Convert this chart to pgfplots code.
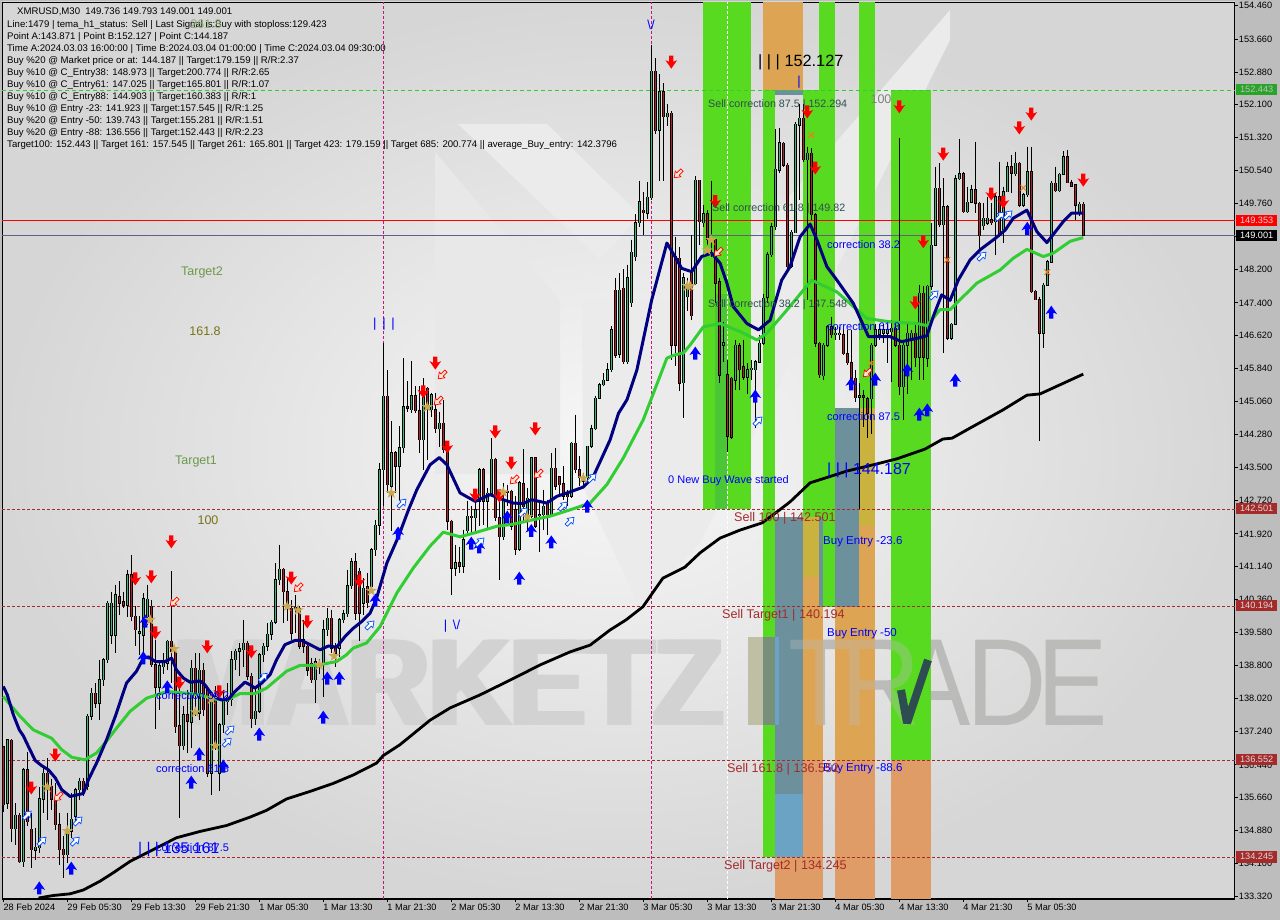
\documentclass[border=0pt]{standalone}
\usepackage{fontspec}
\usepackage{graphicx}
\usepackage{pgfplots}
\usepackage{pgfplotstable}
\pgfplotsset{compat=1.18}
\setmainfont{Liberation Sans}

\definecolor{upc}{HTML}{3CB878}
\definecolor{dnc}{HTML}{B5202A}
\definecolor{gr}{HTML}{58DA20}
\definecolor{grd}{HTML}{4AC636}
\definecolor{orc}{HTML}{E09C66}
\definecolor{orh}{HTML}{DDA553}
\definecolor{yl}{HTML}{C9B23E}
\definecolor{bg}{HTML}{6C909C}
\definecolor{bl}{HTML}{6BA3C4}
\definecolor{lvl}{HTML}{A52A2A}
\definecolor{vline}{HTML}{C71585}
\definecolor{starc}{HTML}{C8A850}
\definecolor{slate}{HTML}{2F4F4F}
\definecolor{lbl}{HTML}{6A9A4A}
\definecolor{ma}{HTML}{32CD32}
\definecolor{logo}{HTML}{2E4D50}
\definecolor{wmheavy}{HTML}{D2D2D2}
\definecolor{wmthin}{HTML}{BBBBB9}
\definecolor{wmi}{HTML}{BFBFA5}
\definecolor{wmig}{HTML}{78907A}

% arrows and stars, sizes in pixels
\pgfdeclareplotmark{dna}{%
  \pgfpathmoveto{\pgfqpoint{-2.2pt}{6.5pt}}\pgfpathlineto{\pgfqpoint{2.2pt}{6.5pt}}%
  \pgfpathlineto{\pgfqpoint{2.2pt}{0.5pt}}\pgfpathlineto{\pgfqpoint{5.8pt}{2pt}}%
  \pgfpathlineto{\pgfqpoint{0pt}{-6.5pt}}\pgfpathlineto{\pgfqpoint{-5.8pt}{2pt}}%
  \pgfpathlineto{\pgfqpoint{-2.2pt}{0.5pt}}\pgfpathclose\pgfusepathqfill}
\pgfdeclareplotmark{upa}{%
  \pgfpathmoveto{\pgfqpoint{-2.2pt}{-6.5pt}}\pgfpathlineto{\pgfqpoint{2.2pt}{-6.5pt}}%
  \pgfpathlineto{\pgfqpoint{2.2pt}{-0.5pt}}\pgfpathlineto{\pgfqpoint{5.8pt}{-2pt}}%
  \pgfpathlineto{\pgfqpoint{0pt}{6.5pt}}\pgfpathlineto{\pgfqpoint{-5.8pt}{-2pt}}%
  \pgfpathlineto{\pgfqpoint{-2.2pt}{-0.5pt}}\pgfpathclose\pgfusepathqfill}
\pgfdeclareplotmark{hol}{%
  \pgfpathmoveto{\pgfqpoint{-1.6pt}{-5.5pt}}\pgfpathlineto{\pgfqpoint{1.6pt}{-5.5pt}}%
  \pgfpathlineto{\pgfqpoint{1.6pt}{0pt}}\pgfpathlineto{\pgfqpoint{4pt}{0pt}}%
  \pgfpathlineto{\pgfqpoint{0pt}{5.5pt}}\pgfpathlineto{\pgfqpoint{-4pt}{0pt}}%
  \pgfpathlineto{\pgfqpoint{-1.6pt}{0pt}}\pgfpathclose\pgfusepathqfillstroke}
\pgfdeclareplotmark{sta}{%
  \pgfpathmoveto{\pgfqpoint{0pt}{6pt}}\pgfpathlineto{\pgfqpoint{1.35pt}{1.86pt}}%
  \pgfpathlineto{\pgfqpoint{5.7pt}{1.85pt}}\pgfpathlineto{\pgfqpoint{2.19pt}{-0.71pt}}%
  \pgfpathlineto{\pgfqpoint{3.53pt}{-4.85pt}}\pgfpathlineto{\pgfqpoint{0pt}{-2.3pt}}%
  \pgfpathlineto{\pgfqpoint{-3.53pt}{-4.85pt}}\pgfpathlineto{\pgfqpoint{0pt}{-2.3pt}}%
  \pgfpathlineto{\pgfqpoint{-3.53pt}{-4.85pt}}\pgfpathlineto{\pgfqpoint{-2.19pt}{-0.71pt}}%
  \pgfpathlineto{\pgfqpoint{-5.7pt}{1.85pt}}\pgfpathlineto{\pgfqpoint{-1.35pt}{1.86pt}}%
  \pgfpathclose\pgfusepathqfill}

% i = bar number, 4 px apart
\pgfplotstableread{
i o h l c
0 136.87 136.87 135.33 135.49
1 135.53 137.03 135.40 137.03
2 137.03 137.05 134.62 134.93
3 134.93 135.53 134.54 135.25
4 135.25 135.30 134.10 134.14
5 134.14 136.36 134.02 136.32
6 136.32 136.75 135.00 135.09
7 134.91 135.29 133.99 134.42
8 134.42 134.94 134.19 134.49
9 134.47 135.92 134.34 135.63
10 135.63 136.44 135.30 136.24
11 136.24 136.60 135.13 135.89
12 135.92 136.10 135.37 135.63
13 135.65 136.00 134.90 135.02
14 135.02 135.30 134.07 134.42
15 134.44 134.74 133.76 134.31
16 134.31 135.30 134.10 134.90
17 134.86 135.77 134.70 135.15
18 135.22 135.90 135.10 135.85
19 135.85 136.13 135.60 136.05
20 136.05 136.13 135.70 135.81
21 135.92 137.65 135.85 137.59
22 137.59 138.26 137.50 138.14
23 138.14 138.38 137.80 137.90
24 137.90 138.93 137.50 138.46
25 138.46 138.97 138.30 138.93
26 138.93 140.32 138.85 140.27
27 139.52 140.55 139.30 140.27
28 139.52 140.71 139.09 140.47
29 140.43 140.79 140.00 140.27
30 140.31 140.55 140.15 140.23
31 140.23 141.07 139.95 140.95
32 140.95 141.42 139.85 139.96
33 139.96 140.20 139.25 139.64
34 139.56 139.96 139.05 139.60
35 139.52 140.51 139.10 140.38
36 139.96 140.71 139.76 140.37
37 140.20 140.35 138.75 138.81
38 138.81 139.41 137.30 138.28
39 138.28 138.93 137.75 138.79
40 138.77 139.09 138.60 138.85
41 138.85 139.40 138.70 139.37
42 139.37 141.03 138.38 139.13
43 139.13 139.20 137.19 137.35
44 137.37 138.46 135.18 136.89
45 136.89 137.83 136.80 137.63
46 137.63 138.22 136.71 137.47
47 137.45 138.93 136.84 138.73
48 138.73 139.09 137.59 138.14
49 137.67 139.09 137.50 138.69
50 138.69 138.85 137.59 137.75
51 138.22 138.30 136.15 136.24
52 136.24 138.06 135.73 137.98
53 137.98 138.30 136.80 136.87
54 136.24 137.43 135.81 137.39
55 137.39 138.22 137.19 137.98
56 137.94 138.38 137.63 138.04
57 137.98 139.13 137.83 138.93
58 138.93 139.20 138.69 139.14
59 139.14 139.33 138.54 139.20
60 139.17 139.88 138.77 139.33
61 139.33 139.37 138.46 138.54
62 138.54 138.62 137.31 137.53
63 137.53 138.30 137.39 137.71
64 137.71 139.09 137.67 139.05
65 139.05 139.33 138.89 139.25
66 139.25 139.80 139.15 139.54
67 139.54 139.88 139.40 139.82
68 139.82 141.22 139.78 140.83
69 140.83 141.66 140.70 141.08
70 141.08 141.10 139.80 140.55
71 140.55 140.90 139.85 140.16
72 140.16 140.35 139.40 139.56
73 140.16 140.47 139.56 140.18
74 140.16 140.20 139.20 139.25
75 139.41 139.88 139.09 139.25
76 139.25 139.33 138.54 138.69
77 138.85 138.97 138.38 138.46
78 138.46 138.97 137.90 138.89
79 138.81 138.95 138.60 138.85
80 138.85 139.88 138.06 139.64
81 139.64 140.16 139.50 139.92
82 139.92 140.12 139.09 139.21
83 139.25 139.33 138.77 139.09
84 139.21 139.92 139.00 139.88
85 139.88 140.12 139.80 140.02
86 140.02 141.07 139.95 140.69
87 140.69 141.34 140.60 141.26
88 141.26 141.46 139.88 140.04
89 141.03 141.10 139.37 140.04
90 140.27 140.87 140.00 140.63
91 140.67 141.00 140.15 140.29
92 140.67 141.58 140.60 141.54
93 141.54 142.25 141.40 142.13
94 142.13 143.60 141.90 143.44
95 143.44 146.44 142.57 145.18
96 145.18 145.81 142.89 143.09
97 143.05 144.59 141.98 143.85
98 143.85 143.88 142.89 143.52
99 143.52 144.47 142.73 143.96
100 143.96 146.09 143.84 144.94
101 144.94 145.54 144.82 144.90
102 144.86 146.01 144.78 145.20
103 145.20 145.42 144.78 144.84
104 144.84 145.42 143.84 144.15
105 144.15 145.61 143.44 145.38
106 145.38 145.40 143.68 144.94
107 144.86 145.26 144.70 145.22
108 144.86 145.26 144.31 144.41
109 144.41 144.82 143.99 144.55
110 144.55 145.10 143.84 143.92
111 143.92 144.00 142.02 142.22
112 142.22 142.26 140.48 141.11
113 141.11 141.66 140.93 141.23
114 141.23 141.62 141.00 141.15
115 141.15 142.02 141.00 141.78
116 142.00 142.69 141.86 142.34
117 142.34 142.57 141.90 142.30
118 142.30 142.85 141.94 142.49
119 142.69 143.48 142.10 143.44
120 143.44 143.48 142.14 142.69
121 142.69 143.01 142.02 142.89
122 142.89 144.19 142.81 143.69
123 143.69 143.72 142.22 142.30
124 142.30 142.97 140.83 141.85
125 141.85 143.13 141.78 142.73
126 142.93 143.09 142.57 142.89
127 142.93 142.97 142.02 142.10
128 142.49 142.81 141.43 141.55
129 141.55 143.17 141.51 143.13
130 143.11 143.93 142.18 142.57
131 142.34 143.01 142.02 142.77
132 142.34 143.74 142.30 143.72
133 143.72 143.74 142.06 142.10
134 142.35 142.73 141.48 142.37
135 142.37 142.97 142.02 142.57
136 142.65 142.73 141.90 142.37
137 142.37 143.84 142.34 143.48
138 143.48 143.96 142.97 143.05
139 143.28 143.30 142.81 143.09
140 143.11 143.52 142.73 142.81
141 142.85 142.97 142.57 142.81
142 142.81 144.09 142.77 144.07
143 144.07 144.75 143.36 143.44
144 143.44 143.76 143.05 143.25
145 143.25 143.36 143.05 143.17
146 143.25 144.01 143.20 144.00
147 144.00 144.51 143.96 144.41
148 144.41 145.18 144.39 145.14
149 145.14 145.50 145.12 145.46
150 145.46 145.73 145.42 145.57
151 145.57 145.97 145.54 145.81
152 145.81 146.84 145.77 146.76
153 147.70 148.00 146.10 146.16
154 146.18 148.10 146.10 147.70
155 147.75 148.20 145.95 146.00
156 146.00 148.30 145.95 148.00
157 147.40 148.90 147.30 148.60
158 148.50 149.50 148.40 149.30
159 149.30 150.30 149.20 149.80
160 149.60 150.03 149.00 149.54
161 149.53 150.27 149.40 149.91
162 149.89 153.52 149.84 152.90
163 152.90 153.20 151.40 151.48
164 151.50 152.83 150.28 152.41
165 152.41 152.61 150.28 151.82
166 151.82 152.13 151.60 151.90
167 151.90 151.95 146.05 146.40
168 148.50 148.97 145.90 146.40
169 148.46 148.73 145.30 145.50
170 145.50 148.10 144.67 148.00
171 147.55 148.00 147.20 147.78
172 148.18 149.01 147.00 147.10
173 147.86 150.40 147.83 150.31
174 150.31 150.31 148.77 149.33
175 149.30 149.72 149.20 149.52
176 149.52 149.60 148.58 148.90
177 148.85 150.30 148.50 148.90
178 148.90 148.95 147.40 147.86
179 147.90 148.00 145.50 145.69
180 146.40 146.95 146.00 146.45
181 145.70 146.05 143.87 144.23
182 145.61 145.65 144.16 144.21
183 145.57 146.52 145.33 146.40
184 146.38 146.44 145.33 145.81
185 145.89 146.52 145.57 145.63
186 145.63 145.97 145.25 145.81
187 145.82 146.04 145.57 145.85
188 145.82 146.04 144.42 146.00
189 145.99 146.64 145.97 146.44
190 146.44 147.62 146.40 147.51
191 147.53 148.60 147.40 148.54
192 148.54 149.29 148.50 149.21
193 149.21 151.52 149.13 150.57
194 150.55 151.54 150.47 151.20
195 151.19 151.22 150.63 150.67
196 150.67 150.71 148.18 148.26
197 148.26 149.13 148.22 149.07
198 149.07 151.70 149.05 151.64
199 151.62 152.13 149.84 151.78
200 151.78 152.13 150.75 150.80
201 150.80 151.11 147.47 150.95
202 150.95 151.07 149.37 149.49
203 149.49 149.53 146.36 146.44
204 146.44 146.48 145.61 145.69
205 145.67 146.44 145.57 146.40
206 146.40 146.87 146.36 146.84
207 146.84 147.07 146.56 146.64
208 146.66 146.83 146.52 146.68
209 146.66 146.83 146.52 146.68
210 146.64 146.79 146.16 146.20
211 146.20 146.76 145.93 145.98
212 145.98 146.76 145.53 145.61
213 145.61 145.81 145.06 145.15
214 145.16 145.49 142.50 145.20
215 145.20 145.33 144.46 145.16
216 145.13 145.17 144.19 144.78
217 145.13 146.44 144.30 146.40
218 146.40 146.91 146.36 146.76
219 146.66 146.91 146.52 146.76
220 146.68 146.91 146.44 146.76
221 146.68 146.91 145.97 146.76
222 146.72 147.00 145.53 146.80
223 146.80 146.95 146.36 146.40
224 146.40 151.31 145.21 145.41
225 145.41 146.44 144.62 146.40
226 146.40 146.91 145.25 146.68
227 146.50 146.76 145.57 146.68
228 146.68 146.91 145.89 146.10
229 146.11 147.83 145.58 147.63
230 147.63 147.79 145.58 146.11
231 146.09 147.83 145.89 147.79
232 147.79 149.29 147.71 148.77
233 148.77 150.63 148.74 150.12
234 150.12 150.71 149.21 149.26
235 149.26 150.36 146.21 149.68
236 149.68 149.72 146.52 146.56
237 146.56 146.92 146.52 146.89
238 146.89 150.44 146.88 150.35
239 150.35 151.30 150.32 150.47
240 150.47 150.51 149.53 149.56
241 149.56 150.16 149.53 149.79
242 149.79 150.20 149.76 150.09
243 150.09 151.22 149.53 149.76
244 149.76 149.80 148.66 148.99
245 149.23 149.76 149.13 149.41
246 149.29 149.92 149.25 149.41
247 149.37 149.76 149.25 149.30
248 149.33 150.00 148.54 149.92
249 149.92 150.75 148.97 149.05
250 149.13 150.16 148.81 150.04
251 150.04 150.75 150.04 150.63
252 150.63 150.91 150.00 150.47
253 150.47 150.99 150.40 150.71
254 150.71 150.75 149.68 149.72
255 149.72 150.00 149.68 149.96
256 149.96 151.11 149.92 150.51
257 150.51 151.11 147.63 147.67
258 147.68 147.71 147.47 147.48
259 147.48 147.55 144.12 146.68
260 146.68 147.87 146.33 147.82
261 147.82 148.42 147.79 148.38
262 148.36 150.28 148.34 150.24
263 150.24 150.63 150.04 150.06
264 150.06 150.47 150.04 150.45
265 150.45 151.00 150.43 150.87
266 150.87 151.03 150.24 150.25
267 150.25 150.32 150.16 150.17
268 150.20 150.20 149.37 149.72
269 149.56 149.80 149.45 149.74
270 149.736 149.793 149.001 149.001
}\bars

% px/py helpers for text placed on the picture
\newcommand{\lab}[5][west]{\node[anchor=#1,inner sep=0pt,yshift=-1.5pt,text=#3,font=\fontsize{#2}{#2}\selectfont] at #4 {#5};}
\newcommand{\col}[5]{\addplot[draw=none,fill=#5,forget plot] coordinates {(#1,#3)(#2,#3)(#2,#4)(#1,#4)} --cycle;}
\newcommand{\pricebox}[4]{\node[fill=#2,text=#3,minimum width=41pt,minimum height=11.5pt,inner sep=0pt,anchor=west,font=\fontsize{9.2}{10}\selectfont] at (1236,920-#1) {#4};}
% watermark letters
\newcommand{\wmheavytext}[1]{\node[anchor=base west,inner sep=0pt,text=wmheavy,font=\fontsize{124}{124}\selectfont\bfseries] at (#1,194) {\scalebox{.905}[1]{MARKETZ}};}
\newcommand{\wmletter}[4][]{\node[anchor=base west,inner sep=0pt,text=wmthin,#1,font=\fontsize{124}{124}\selectfont] at (#2,194) {\scalebox{#3}[1]{#4}};}

\pgfplotsset{bar part/.style={only marks,mark size=0pt,mark options={draw=none,fill=none},forget plot,
    error bars/.cd,y dir=both,y explicit,error mark=none}}

\begin{document}
\begin{tikzpicture}[x=1pt,y=1pt]
\useasboundingbox (0,0) rectangle (1280,920);
\fill[black!26] (0,0) rectangle (1280,920);
\shade[inner color=black!3,outer color=black!16] (2,21) rectangle (1235,918);

% watermark behind the chart
\fill[black!9] (435,768) -- (560,620) -- (560,446) -- (435,446) -- cycle;
\fill[black!8] (458,796) -- (547,796) -- (640,705) -- (600,660) -- cycle;
\fill[black!8] (582,620) -- (700,620) -- (700,377) -- (640,313) -- (583,433) -- cycle;
\fill[black!8] (700,377) -- (950,880) -- (950,910) -- (700,620) -- cycle;
\wmheavytext{170}\wmheavytext{174}\wmheavytext{178}
\fill[wmi] (748,195) rectangle (775,283);
\wmletter{788}{.85}{T}\wmletter{840}{.9}{R}\wmletter{900}{.85}{A}\wmletter{966}{.9}{D}\wmletter{1037}{.85}{E}

\begin{axis}[
    at={(2.3pt,21pt)},anchor=south west,
    scale only axis,width=1232.4pt,height=896.5pt,
    clip=false,
    xmin=-0.25,xmax=307.85,
    ymin=133.257,ymax=154.527,
    axis line style={line width=1.3pt,black},
    tick style={black,line width=.8pt},
    tick align=outside,major tick length=3pt,
    xtick pos=bottom,ytick pos=right,yticklabel pos=right,
    xtick={0,16,32,48,64,80,96,112,128,144,160,176,192,208,224,240,256},
    xticklabels={28 Feb 2024,29 Feb 05:30,29 Feb 13:30,29 Feb 21:30,1 Mar 05:30,1 Mar 13:30,1 Mar 21:30,2 Mar 05:30,2 Mar 13:30,2 Mar 21:30,3 Mar 05:30,3 Mar 13:30,3 Mar 21:30,4 Mar 05:30,4 Mar 13:30,4 Mar 21:30,5 Mar 05:30},
    ytick={154.46,153.66,152.88,152.10,151.32,150.54,149.76,148.98,148.20,147.40,146.62,145.84,145.06,144.28,143.50,142.72,141.92,141.14,140.36,139.58,138.80,138.02,137.24,136.44,135.66,134.88,134.10,133.32},
    x tick label style={anchor=north west,xshift=-1pt,yshift=-1pt,inner sep=1pt,font=\fontsize{9.2}{10}\selectfont},
    y tick label style={anchor=west,xshift=0pt,inner sep=1pt,font=\fontsize{9.2}{10}\selectfont},
    /pgf/number format/.cd,fixed,fixed zerofill,precision=3,assume math mode=true,
]

% coloured zones
\col{175}{187}{142.50}{154.527}{gr}
\col{178}{181}{142.50}{147.60}{grd}
\col{190}{200}{152.45}{154.527}{orh}
\col{190}{193}{134.245}{152.45}{gr}
\col{190}{193}{137.38}{139.47}{wmig}
\col{193}{200}{152.33}{152.45}{bg}
\col{193}{200}{134.245}{142.31}{bg}
\col{193}{200}{134.245}{135.75}{bl}
\col{193}{194}{137.38}{139.47}{bl}
\col{200}{204}{142.31}{152.45}{gr}
\col{204}{208}{140.19}{154.527}{gr}
\col{204}{205}{140.19}{142.31}{bg}
\col{200}{204}{133.257}{142.31}{orh}
\col{200}{204}{140.90}{142.31}{yl}
\col{204}{205}{133.257}{140.19}{orh}
\col{193}{200}{133.257}{134.245}{orc}
\col{200}{205}{133.257}{136.55}{orc}
\col{208}{214}{140.19}{144.91}{bg}
\col{208}{218}{136.55}{140.19}{orh}
\col{208}{218}{133.257}{136.55}{orc}
\col{214}{218}{140.19}{144.91}{orh}
\col{214}{218}{142.10}{144.91}{yl}
\col{214}{218}{144.91}{154.527}{gr}
\col{222}{232}{136.55}{152.45}{gr}
\col{222}{232}{133.257}{136.55}{orc}

% levels
\addplot[ma,line width=.9pt,dash pattern=on 4pt off 3pt,forget plot] coordinates {(-0.25,152.443)(307.85,152.443)};
\addplot[red,line width=1pt,forget plot] coordinates {(-0.25,149.353)(307.85,149.353)};
\addplot[black!40!blue!25!gray,line width=1pt,forget plot] coordinates {(-0.25,149.001)(307.85,149.001)};
\addplot[lvl,line width=.9pt,dash pattern=on 3pt off 2pt,forget plot] coordinates {(-0.25,142.501)(307.85,142.501)};
\addplot[lvl,line width=.9pt,dash pattern=on 3pt off 2pt,forget plot] coordinates {(-0.25,140.194)(307.85,140.194)};
\addplot[lvl,line width=.9pt,dash pattern=on 3pt off 2pt,forget plot] coordinates {(-0.25,136.552)(307.85,136.552)};
\addplot[lvl,line width=.9pt,dash pattern=on 3pt off 2pt,forget plot] coordinates {(-0.25,134.245)(307.85,134.245)};
\addplot[vline,line width=.9pt,dash pattern=on 3pt off 2pt,forget plot] coordinates {(95,133.257)(95,154.527)};
\addplot[vline,line width=.9pt,dash pattern=on 3pt off 2pt,forget plot] coordinates {(162,133.257)(162,154.527)};
\addplot[white,line width=.9pt,dash pattern=on 3pt off 2pt,forget plot] coordinates {(181,133.257)(181,154.527)};

% candles: wick, black outline, coloured body
\addplot[bar part,error bar style={black,line width=1pt}]
  table[x=i,y=h,y error plus expr=0,y error minus expr=\thisrow{h}-\thisrow{l}] {\bars};
\addplot[bar part,error bar style={black,line width=3.2pt}]
  table[x=i,y expr=(\thisrow{o}+\thisrow{c})/2,y error expr=abs(\thisrow{o}-\thisrow{c})/2+0.012] {\bars};
\addplot[bar part,error bar style={upc,line width=1.5pt}]
  table[x=i,y expr=(\thisrow{o}+\thisrow{c})/2,y error expr={\thisrow{c}>\thisrow{o} ? (\thisrow{c}-\thisrow{o})/2 : 0}] {\bars};
\addplot[bar part,error bar style={dnc,line width=1.5pt}]
  table[x=i,y expr=(\thisrow{o}+\thisrow{c})/2,y error expr={\thisrow{c}<\thisrow{o} ? (\thisrow{o}-\thisrow{c})/2 : 0}] {\bars};

% averages
\addplot[black,line width=2.8pt,line join=round,forget plot] coordinates {
(8.8,133.28)(12.5,133.34)(16.7,133.38)(20,133.47)(24.2,133.68)(27.5,133.88)(31.7,134.15)(37.5,134.43)(43.3,134.71)(49.2,134.86)(55.8,135.0)(61.7,135.2)(65.8,135.36)(70.8,135.63)(76.7,135.81)(82.5,136.0)(87.5,136.2)(93.3,136.48)(95,136.66)(99.2,136.92)(106.7,137.5)(111.7,137.79)(119.2,138.1)(126.7,138.45)(134.2,138.81)(141.7,139.12)(146.7,139.28)(151.7,139.64)(155.7,139.88)(159.9,140.19)(164.9,140.87)(170.4,141.13)(174.2,141.47)(179.2,141.82)(184.2,142.01)(189.7,142.18)(193.4,142.44)(196.7,142.68)(201.7,143.13)(210.9,143.41)(218.4,143.58)(223.4,143.7)(230.4,143.93)(234.9,144.17)(237.2,144.19)(241.7,144.43)(249.9,144.86)(255.9,145.21)(259.2,145.24)(270,145.71)};
\addplot[ma,line width=3pt,line join=round,forget plot] coordinates {
(0,138.06)(1.7,137.87)(4.2,137.59)(7.5,137.27)(12.1,137.07)(14.6,136.8)(17.1,136.62)(20.4,136.56)(23.3,136.72)(25.8,137.0)(28.3,137.31)(31.7,137.71)(35.8,138.02)(40.9,138.18)(45.8,138.14)(49.2,138.1)(52.5,138.0)(55.8,137.98)(59.2,138.13)(62.9,138.13)(65.8,138.26)(70.8,138.66)(74.2,138.8)(78.3,138.8)(83.3,138.89)(85.8,139.05)(87.5,139.21)(90.8,139.33)(94.2,139.72)(98.4,140.52)(102.5,141.11)(106.7,141.63)(110,141.96)(114.2,141.85)(118.4,141.96)(123.4,142.1)(127.5,142.15)(131.7,142.24)(136.7,142.34)(141.7,142.49)(146.7,142.65)(150.9,143.09)(155,143.72)(160,144.63)(165.9,146.09)(168,146.17)(170,146.21)(171.7,146.4)(175,146.83)(179.2,146.91)(184.2,146.72)(188.4,146.52)(190.9,146.68)(195.9,147.23)(202.1,147.94)(208.4,147.66)(215.9,147.03)(221.7,146.95)(228.4,146.91)(230.9,146.86)(234.2,147.24)(236.7,147.24)(240,147.55)(243.4,147.87)(249.2,148.18)(252.5,148.46)(255.9,148.67)(260,148.5)(262.5,148.58)(266.7,148.86)(270,148.95)};
\addplot[blue!50!black,line width=3pt,line join=round,forget plot] coordinates {
(0,138.30)(1,138.10)(2.5,137.63)(4,137.27)(5,137.13)(6.3,136.87)(8,136.54)(9.6,136.42)(11.3,136.32)(13,136.13)(14.6,135.85)(16.7,135.69)(20,135.76)(21.3,136.09)(23.3,136.48)(25.8,137.03)(28,137.59)(30.8,138.38)(33.3,138.66)(35,138.97)(36.3,139.0)(38,138.89)(40.4,138.89)(42.1,138.97)(43.3,138.69)(45,138.5)(46.7,138.4)(49.2,138.43)(50.4,138.34)(52.5,138.06)(54.6,137.98)(56.3,138.0)(57.9,138.18)(60.4,138.4)(61.7,138.34)(62.9,138.26)(64.6,138.38)(66.7,138.58)(68.3,138.93)(70.4,139.29)(72.9,139.39)(74.6,139.39)(76.7,139.29)(79.2,139.17)(81.3,139.26)(83.3,139.23)(85.4,139.48)(87.5,139.68)(89.6,139.84)(91.7,140.04)(93.3,140.39)(95.9,141.23)(98.8,141.86)(101.3,142.49)(103.4,142.97)(106.7,143.56)(109,143.73)(110.9,143.56)(114.2,142.89)(118,142.69)(121.7,142.85)(125,142.73)(127.5,142.65)(130,142.64)(132.1,142.73)(135.9,142.65)(138.4,142.81)(142.1,142.93)(145,143.03)(147.5,143.28)(151.7,144.15)(153.8,144.78)(155.9,145.1)(158.4,145.81)(162.1,147.47)(165.9,148.82)(167.9,148.5)(169.6,148.22)(172.1,148.14)(174.6,148.5)(177.1,148.58)(179.2,148.34)(180.9,147.87)(182.5,147.31)(185.9,146.91)(188.8,146.76)(191.7,146.99)(194.6,147.94)(196.7,148.26)(199.2,148.97)(201.7,149.27)(203.4,148.9)(205.9,148.26)(208.4,147.94)(212.5,147.39)(216.3,146.6)(221.7,146.6)(224.6,146.48)(228.4,146.56)(230.9,146.62)(232.5,147.08)(234.6,147.59)(236.7,147.46)(238.8,147.95)(241.7,148.42)(244.2,148.66)(248,148.93)(250.5,149.13)(252.5,149.41)(255.9,149.6)(258.4,149.09)(260.9,148.83)(265,149.33)(267.1,149.53)(270,149.53)};

% signals
\addplot[only marks,mark=dna,red,forget plot] coordinates {
(7,135.89)(13,136.67)(33,140.85)(37,140.90)(42,141.73)(38,139.57)(44,138.38)(51,139.24)(54,138.17)(62,139.12)(72,140.87)(76,139.83)(89,140.8)(108,145.97)(105,145.29)(111,143.98)(118,142.84)(123,144.34)(124,142.82)(127,143.6)(133,144.41)(167,153.11)(178,149.8)(201,151.93)(203,150.6)(224,152.05)(230,148.85)(228,147.4)(235,150.93)(257,151.88)(254,151.55)(247,149.98)(250,149.79)(270,150.31)};
\addplot[only marks,mark=upa,blue,forget plot] coordinates {
(9,133.52)(17,133.99)(35,138.98)(35.5,139.85)(41,138.29)(49,136.7)(47,136.03)(55,136.41)(64,137.17)(80,137.57)(81,138.5)(84,138.5)(93,140.35)(98.7,141.94)(117,141.7)(119,141.61)(126,142.32)(129,140.87)(132,142.0)(137,141.73)(146,142.58)(173,146.21)(188,145.19)(212,145.48)(218,145.59)(226,145.81)(229,144.76)(231,144.86)(238,145.57)(256,149.17)(262,147.18)};
\addplot[only marks,mark=hol,mark options={rotate=135,draw=red,fill=orange!20,line width=.7pt},forget plot] coordinates {
(13.7,135.68)(42.7,140.3)(73.7,140.64)(109.7,145.69)(108.7,145.07)(127.7,143.2)(133.7,143.34)(168.7,150.46)(178.7,148.6)(216,145.74)};
\addplot[only marks,mark=hol,mark options={rotate=-45,draw=blue!70!cyan,fill=white,line width=.7pt},forget plot] coordinates {
(6,135.25)(9.7,134.63)(18.7,135.11)(18,134.63)(56.7,137.27)(56,136.98)(65,138.52)(91.7,139.76)(99.7,142.65)(119.2,141.73)(130,142.44)(140,142.58)(141.7,142.22)(147.2,143.25)(188.7,144.6)(232.7,147.59)(244.7,148.51)(249.2,149.46)(251.2,149.49)};
\addplot[only marks,mark=sta,starc,forget plot] coordinates {
(11,135.91)(16,134.87)(36.7,139.88)(42.7,139.19)(48,137.69)(53,136.89)(52,138.0)(71,140.2)(73.7,140.11)(82.7,139.02)(79,138.81)(92,140.57)(97,142.89)(106,144.93)(125,142.91)(131,142.32)(145,143.24)(177,148.89)(176,148.65)(171,147.8)(171.7,147.8)};
\addplot[only marks,mark=x,mark size=4pt,orange!70!brown,line width=1pt,forget plot] coordinates {
(202,151.38)(217,145.97)(236,148.42)(255,150.13)(261,148.13)};
\end{axis}

% watermark remains faintly over the zones
\wmletter[opacity=.35]{788}{.85}{T}\wmletter[opacity=.35]{840}{.9}{R}
\draw[draw=logo,line width=8pt,line join=bevel] (901,230) -- (907,197) -- (928,260);

% header block
\def\hd{9.6}
\lab{\hd}{black}{(17,920-10.7)}{XMRUSD,M30\ \ 149.736 149.793 149.001 149.001}
\lab{\hd}{black}{(7,920-23.7)}{Line:1479 | tema\_h1\_status: Sell | Last Signal is:Buy with stoploss:129.423}
\lab{\hd}{black}{(7,920-35.7)}{Point A:143.871 | Point B:152.127 | Point C:144.187}
\lab{\hd}{black}{(7,920-47.7)}{Time A:2024.03.03 16:00:00 | Time B:2024.03.04 01:00:00 | Time C:2024.03.04 09:30:00}
\lab{\hd}{black}{(7,920-59.7)}{Buy \%20 @ Market price or at: 144.187 || Target:179.159 || R/R:2.37}
\lab{\hd}{black}{(7,920-71.7)}{Buy \%10 @ C\_Entry38: 148.973 || Target:200.774 || R/R:2.65}
\lab{\hd}{black}{(7,920-83.7)}{Buy \%10 @ C\_Entry61: 147.025 || Target:165.801 || R/R:1.07}
\lab{\hd}{black}{(7,920-95.7)}{Buy \%10 @ C\_Entry88: 144.903 || Target:160.383 || R/R:1}
\lab{\hd}{black}{(7,920-107.7)}{Buy \%10 @ Entry -23: 141.923 || Target:157.545 || R/R:1.25}
\lab{\hd}{black}{(7,920-119.7)}{Buy \%20 @ Entry -50: 139.743 || Target:155.281 || R/R:1.51}
\lab{\hd}{black}{(7,920-131.7)}{Buy \%20 @ Entry -88: 136.556 || Target:152.443 || R/R:2.23}
\lab{\hd}{black}{(7,920-143.7)}{Target100: 152.443 || Target 161: 157.545 || Target 261: 165.801 || Target 423: 179.159 || Target 685: 200.774 || average\_Buy\_entry: 142.3796}

% chart annotations
\lab[center]{12.5}{lbl!80}{(206,920-22.7)}{261.8}
\lab[center]{12.5}{lbl}{(202,920-270.5)}{Target2}
\lab[center]{12.5}{olive!80!black}{(205,920-330)}{161.8}
\lab[center]{12.5}{lbl}{(196,920-460.5)}{Target1}
\lab[center]{12.5}{olive!80!black}{(208,920-518.5)}{100}
\lab[center]{12.5}{black!50}{(881,920-97.5)}{100}
\lab[center]{13}{blue}{(384,920-323)}{| \,|\, |}
\lab[center]{13}{blue}{(452,920-625)}{| \,\textbackslash/}
\lab[center]{13}{blue}{(651,920-23)}{\textbackslash/}
\lab[center]{13}{blue}{(799,920-81)}{|}
\lab{16.3}{black}{(758,920-61)}{| | | 152.127}
\lab{16}{blue}{(827,920-469)}{| | | 144.187}
\lab{15.5}{blue}{(138,920-848)}{| | | 135.161}
\def\cf{11}
\lab{\cf}{blue}{(156,920-694)}{correction 38.2}
\lab{\cf}{blue}{(156,920-767)}{correction 61.8}
\lab{\cf}{blue}{(156,920-846)}{correction 87.5}
\lab{\cf}{blue}{(827,920-243)}{correction 38.2}
\lab{\cf}{blue}{(827,920-325)}{correction 61.8}
\lab{\cf}{blue}{(827,920-415)}{correction 87.5}
\lab{\cf}{blue}{(668,920-479)}{0 New Buy Wave started}
\lab{11.5}{blue}{(823,920-540.5)}{Buy Entry -23.6}
\lab{11.5}{blue}{(827,920-632.5)}{Buy Entry -50}
\lab{11.5}{blue}{(823,920-767.5)}{Buy Entry -88.6}
\lab{10.7}{slate}{(708,920-103)}{Sell correction 87.5 | 152.294}
\lab{10.7}{slate}{(712,920-207)}{Sell correction 61.8 | 149.82}
\lab{10.7}{slate}{(708,920-303)}{Sell correction 38.2 | 147.548}
\lab{12.6}{lvl}{(734,920-517)}{Sell 100 | 142.501}
\lab{12.6}{lvl}{(722,920-614)}{Sell Target1 | 140.194}
\lab{12.6}{lvl}{(727,920-768)}{Sell 161.8 | 136.552}
\lab{12.6}{lvl}{(724,920-865)}{Sell Target2 | 134.245}

% price boxes on the right
\pricebox{89.7}{ma!80!black}{black!25}{152.443}
\pricebox{220.3}{red}{white!85!black}{149.353}
\pricebox{235.3}{black}{white}{149.001}
\pricebox{508.7}{lvl}{white!85!black}{142.501}
\pricebox{605.5}{lvl}{white!85!black}{140.194}
\pricebox{759.7}{lvl}{white!85!black}{136.552}
\pricebox{856.8}{lvl}{white!85!black}{134.245}
\end{tikzpicture}
\end{document}
